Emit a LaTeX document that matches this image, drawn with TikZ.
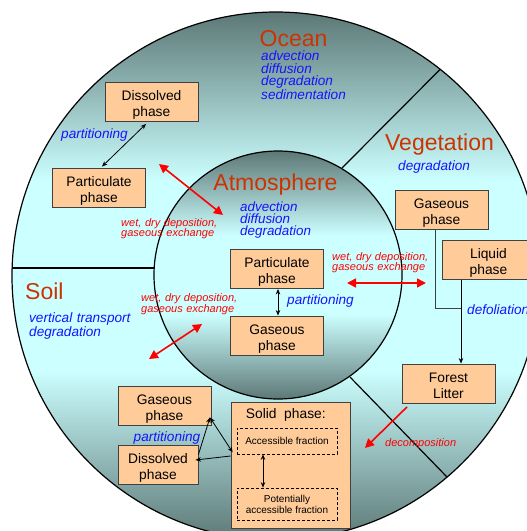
\documentclass[tikz,border=0pt]{standalone}
\usepackage{fontspec}
\setmainfont{Liberation Sans}
\usetikzlibrary{arrows.meta}
\definecolor{ringdark}{RGB}{92,120,118}
\definecolor{ringlight}{RGB}{204,255,255}
\definecolor{titlec}{RGB}{204,51,0}
\definecolor{procblue}{RGB}{20,20,255}
\definecolor{procred}{RGB}{255,0,0}
\definecolor{boxfill}{RGB}{255,204,153}
\definecolor{boxline}{RGB}{64,64,64}
\pgfdeclareverticalshading{ringshade}{100bp}{color(0bp)=(ringdark); color(25bp)=(ringdark); color(41bp)=(ringlight); color(59bp)=(ringlight); color(75bp)=(ringdark); color(100bp)=(ringdark)}
\pgfdeclareverticalshading{innershade}{100bp}{color(0bp)=(ringdark); color(25bp)=(ringdark); color(42bp)=(ringlight); color(58bp)=(ringlight); color(75bp)=(ringdark); color(100bp)=(ringdark)}
\newcommand{\twol}[2]{\rule{0pt}{16pt}#1\\#2\rule[-3pt]{0pt}{3pt}}
\begin{document}
\begin{tikzpicture}[x=1pt,y=-1pt,
  pbox/.style={draw=boxline, line width=0.9pt, fill=boxfill, minimum width=93pt, minimum height=39pt, align=center, inner sep=0pt, font=\fontsize{13.8}{16}\selectfont},
  dbox/.style={draw=black, line width=0.7pt, dash pattern=on 3pt off 2pt, minimum width=100pt, align=center, inner sep=0pt, font=\fontsize{10}{11}\selectfont},
  ttl/.style={text=titlec, font=\fontsize{23}{26}\selectfont, inner sep=0pt, anchor=base},
  proc/.style={text=procblue, font=\fontsize{13.6}{12.6}\selectfont\itshape, inner sep=0pt, anchor=base west, align=left, text width=130pt},
  rtxt/.style={text=procred, font=\fontsize{11}{10.4}\selectfont\itshape, inner sep=0pt, anchor=base west, align=left, text width=120pt},
  divline/.style={draw=black, line width=1.2pt},
  barrow/.style={draw=black, line width=0.8pt, {Stealth[length=5.5pt,width=4.5pt]}-{Stealth[length=5.5pt,width=4.5pt]}},
  sarrow/.style={draw=black, line width=0.8pt, -{Stealth[length=5.5pt,width=4.5pt]}},
  rarrow/.style={draw=procred, line width=1.6pt, {Triangle[length=9pt,width=9pt]}-{Triangle[length=9pt,width=9pt]}},
  rsarrow/.style={draw=procred, line width=1.6pt, -{Triangle[length=9pt,width=9pt]}}
]
\useasboundingbox (0,0) rectangle (527,531);
\fill[white] (0,0) rectangle (527,531);

% circles and dividers
\coordinate (Cout) at (276,276);
\coordinate (Cin) at (278,275);
\shade[shading=ringshade] (Cout) circle[radius=264pt];
\draw[line width=1.2pt] (Cout) circle[radius=264pt];
\coordinate (dL1) at (12.1,268);
\coordinate (dL2) at (154.2,268);
\coordinate (dU1) at (342,168);
\coordinate (dU2) at (440,69.5);
\coordinate (dR1) at (350,377);
\coordinate (dR2) at (447,477);
\draw[divline] (dL1) -- (dL2);
\draw[divline] (dU1) -- (dU2);
\draw[divline] (dR1) -- (dR2);
\shade[shading=innershade] (Cin) circle[radius=124pt];
\draw[line width=1.2pt] (Cin) circle[radius=124pt];

% titles
\node[ttl] (tOcean) at (293.5,46) {Ocean};
\node[ttl] (tAtm) at (275.5,190) {Atmosphere};
\node[ttl] (tVeg) at (439.5,150.7) {Vegetation};
\node[ttl, anchor=base west] (tSoil) at (25,299) {Soil};

% process texts
\node[proc] (pOcean) at (261,60.5) {advection\\diffusion\\degradation\\sedimentation};
\node[proc, font=\fontsize{13.4}{12.2}\selectfont\itshape] (pAtm) at (240,211) {advection\\diffusion\\degradation};
\node[proc] (pVeg) at (398,170.7) {degradation};
\node[proc] (pSoil) at (29,322.7) {vertical transport\\degradation};
\node[proc] (partO) at (61,138.5) {partitioning};
\node[proc] (partA) at (287,304) {partitioning};
\node[proc] (partS) at (133.5,441) {partitioning};
\node[proc] (defol) at (467,314) {defoliation};
\node[proc, font=\fontsize{13.6}{13}\selectfont\itshape] (dyn) at (275,468) {dynamic\\exchange};

% red texts
\node[rtxt] (wO) at (121,226) {wet, dry deposition,\\gaseous exchange};
\node[rtxt] (wA) at (332,260) {wet, dry deposition,\\gaseous exchange};
\node[rtxt] (wS) at (141,301.7) {wet, dry deposition,\\gaseous exchange};
\node[rtxt] (dec) at (385,446) {decomposition};

% boxes
\node[pbox] (oDis) at (151.5,102) {\twol{Dissolved}{phase}};
\node[pbox] (oPart) at (99,187.5) {\twol{Particulate}{phase}};
\node[pbox] (aPart) at (277,269) {\twol{Particulate}{phase}};
\node[pbox] (aGas) at (277,335.5) {\twol{Gaseous}{phase}};
\node[pbox] (vGas) at (441.5,209.5) {\twol{Gaseous}{phase}};
\node[pbox] (vLiq) at (488.5,260) {\twol{Liquid}{phase}};
\node[pbox] (litter) at (448.5,383.5) {\twol{Forest}{Litter}};
\node[pbox] (sGas) at (164.5,405.5) {\twol{Gaseous}{phase}};
\node[pbox, minimum width=80pt] (sDis) at (158,464.5) {\twol{Dissolved}{phase}};
\node[pbox, minimum width=119pt, minimum height=126pt] (solid) at (290.5,465) {};
\node[inner sep=0pt, anchor=base west, font=\fontsize{13.8}{16}\selectfont] (solidT) at (245.7,418.3) {Solid~ phase:};
\node[dbox, minimum height=26pt] (acc) at (287,441) {Accessible fraction};
\node[dbox, minimum height=32pt] (pot) at (287,504) {Potentially\\accessible fraction};

% black arrows
\draw[barrow] ([xshift=3pt,yshift=1pt]oPart.north) -- ([xshift=-5.5pt,yshift=-2pt]oDis.south);
\draw[barrow] ([xshift=1pt]aPart.south) -- ([xshift=1pt]aGas.north);
\coordinate (vJoin) at (461,308);
\draw[draw=boxline, line width=0.8pt] ([xshift=-6.5pt]vGas.south) |- (vJoin);
\draw[sarrow] ([xshift=-27.5pt]vLiq.south) -- ([xshift=-27.5pt]vLiq.south |- litter.north);
\draw[barrow] ([xshift=-24pt]acc.south) -- ([xshift=-24pt]pot.north);
\draw[sarrow] ([yshift=10pt]sDis.east) -- ([xshift=-1.5pt,yshift=8pt]sGas.south east);
\draw[barrow] ([xshift=-1.5pt,yshift=8pt]sGas.south east) -- ([xshift=-4pt,yshift=2pt]acc.south west);
\draw[sarrow] ([yshift=9pt]solid.west) -- ([xshift=-3pt,yshift=4.5pt]sDis.east);

% red arrows
\coordinate (rOA1) at (159,164);
\coordinate (rOA2) at (223,215);
\coordinate (rAV1) at (347,283);
\coordinate (rAV2) at (426,283);
\coordinate (rAS1) at (149,359);
\coordinate (rAS2) at (202,324);
\coordinate (rLS) at (365,448);
\draw[rarrow] (rOA1) -- (rOA2);
\draw[rarrow] (rAV1) -- (rAV2);
\draw[rarrow] (rAS1) -- (rAS2);
\draw[rsarrow] ([xshift=-41.5pt,yshift=-3.5pt]litter.south) -- (rLS);
\end{tikzpicture}
\end{document}
